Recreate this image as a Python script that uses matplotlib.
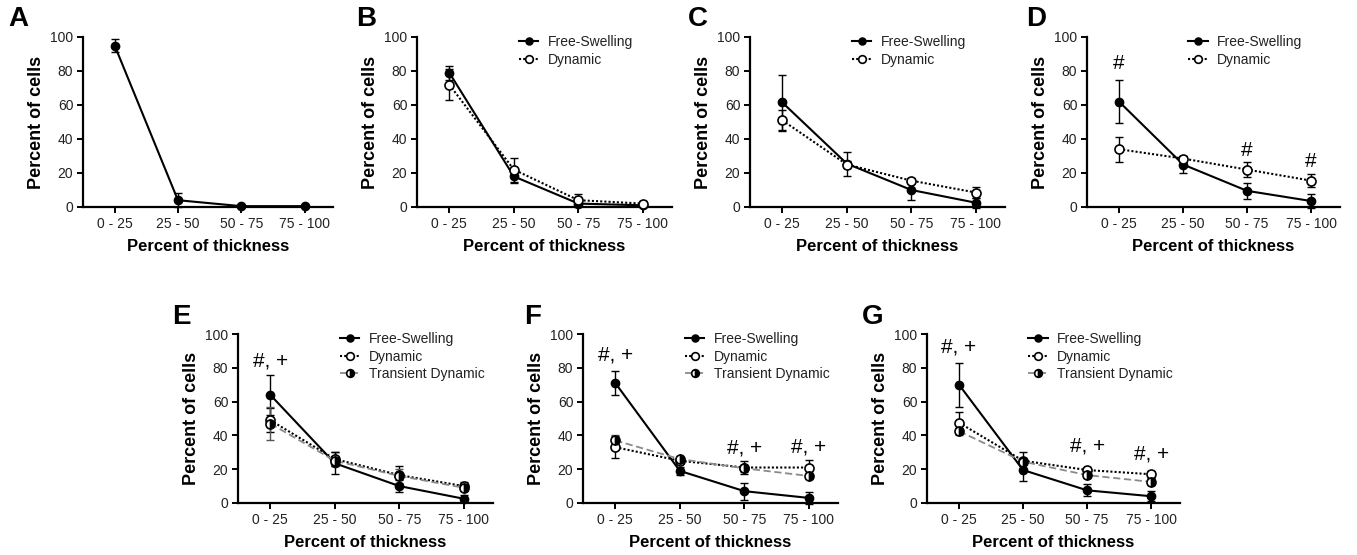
import matplotlib
matplotlib.use("Agg")
import matplotlib.pyplot as plt
import numpy as np

plt.rcParams['font.family'] = ['Liberation Sans', 'DejaVu Sans']

categories = ["0 - 25", "25 - 50", "50 - 75", "75 - 100"]

# Panel A
A_fs = [95, 4, 0.5, 0.5]
A_fs_err = [4, 4, 0.5, 0.5]

# Panel B
B_fs = [79, 18, 2, 1]
B_fs_err = [4, 4, 2, 1]
B_dyn = [72, 22, 4, 2]
B_dyn_err = [9, 7, 3.5, 1.5]

# Panel C
C_fs = [61.5, 25.5, 10, 2.5]
C_fs_err = [16, 7, 6, 3]
C_dyn = [51, 25, 15.5, 8.5]
C_dyn_err = [6, 2, 1.5, 3]

# Panel D
D_fs = [62, 25, 9.5, 3.5]
D_fs_err = [12.5, 5, 4.7, 4]
D_dyn = [34, 28.5, 22, 15.5]
D_dyn_err = [7.3, 1.5, 4.3, 4]

# Panel E
E_fs = [64, 23.5, 10, 2.5]
E_fs_err = [12, 6.6, 3.5, 2]
E_dyn = [49, 26, 16.5, 10]
E_dyn_err = [7, 4, 5.5, 2.5]
E_td = [47, 25, 16, 9]
E_td_err = [10, 3, 4, 2]

# Panel F
F_fs = [71, 19, 7, 3]
F_fs_err = [7, 2.5, 5, 3.5]
F_dyn = [33, 25, 21, 21]
F_dyn_err = [6.5, 1.5, 4, 4.5]
F_td = [37, 26, 20.5, 16]
F_td_err = [3.5, 1.5, 2, 1.5]

# Panel G
G_fs = [70, 19.5, 7.5, 4]
G_fs_err = [13, 6.5, 3.5, 3]
G_dyn = [47.5, 25, 19.5, 17]
G_dyn_err = [6.5, 5, 2, 2]
G_td = [42.5, 24.5, 16.5, 12.5]
G_td_err = [2, 2, 2, 2]

yticks = [0, 20, 40, 60, 80, 100]

fig = plt.figure(figsize=(13.57, 5.55), dpi=100)
W, H = 1357.0, 555.0

def make_ax(left, right, top_px, bottom_px):
    return fig.add_axes([left / W, (H - bottom_px) / H, (right - left) / W, (bottom_px - top_px) / H])

x = np.arange(4)

def style(ax, letter, lx, ly):
    ax.set_xlim(-0.5, 3.45)
    ax.set_ylim(0, 100)
    ax.set_yticks(yticks)
    ax.set_xticks(x)
    ax.set_xticklabels(categories)
    for s in ['top', 'right']:
        ax.spines[s].set_visible(False)
    for s in ['left', 'bottom']:
        ax.spines[s].set_linewidth(1.6)
    ax.tick_params(axis='both', direction='out', length=4, width=1.4, labelsize=10, labelcolor='#222222', pad=3)
    ax.set_xlabel("Percent of thickness", fontsize=12, fontweight='bold', labelpad=6)
    ax.set_ylabel("Percent of cells", fontsize=13, fontweight='bold', labelpad=4)
    fig.text(lx / W, 1 - ly / H, letter, fontsize=20, fontweight='bold', va='top', ha='left')

def fs_series(ax, y, e, label="Free-Swelling"):
    ax.errorbar(x, y, yerr=e, fmt='none', ecolor='black', elinewidth=1.0, capsize=3, capthick=1.0, clip_on=False, zorder=3)
    ax.plot(x, y, '-', color='black', lw=1.5, marker='o', ms=6, mfc='black', mec='black', label=label, clip_on=False, zorder=4)

def dyn_series(ax, y, e):
    ax.errorbar(x, y, yerr=e, fmt='none', ecolor='black', elinewidth=1.0, capsize=3, capthick=1.0, clip_on=False, zorder=3)
    ax.plot(x, y, linestyle=(0, (1, 1)), color='black', lw=1.5, marker='o', ms=6.5, mfc='white', mec='black', mew=1.2, label='Dynamic', clip_on=False, zorder=4)

def td_series(ax, y, e):
    ax.errorbar(x, y, yerr=e, fmt='none', ecolor='#555555', elinewidth=1.0, capsize=3, capthick=1.0, clip_on=False, zorder=3)
    ax.plot(x, y, linestyle=(0, (4, 2)), color='#8a8a8a', lw=1.3, marker='o', ms=6.5, fillstyle='right',
            mfc='black', mfcalt='white', mec='black', mew=1.2, label='Transient Dynamic', clip_on=False, zorder=4)

def legend(ax):
    leg = ax.legend(loc='upper left', bbox_to_anchor=(0.40, 1.01), frameon=False, fontsize=10,
                    handlelength=1.4, handletextpad=0.7, labelspacing=0.25, borderpad=0, borderaxespad=0,
                    markerscale=0.85)
    for t in leg.get_texts():
        t.set_color('#222222')

def annot(ax, xi, yv, s):
    ax.text(xi, yv, s, fontsize=15, ha='center', va='center', color='black')

top1, bot1 = 37, 207
top2, bot2 = 334, 503

# A
axA = make_ax(83, 333, top1, bot1)
fs_series(axA, A_fs, A_fs_err)
style(axA, "A", 8, 6)

# B
axB = make_ax(417, 672, top1, bot1)
fs_series(axB, B_fs, B_fs_err)
dyn_series(axB, B_dyn, B_dyn_err)
style(axB, "B", 356, 6)
legend(axB)

# C
axC = make_ax(750, 1005, top1, bot1)
fs_series(axC, C_fs, C_fs_err)
dyn_series(axC, C_dyn, C_dyn_err)
style(axC, "C", 688, 6)
legend(axC)

# D
axD = make_ax(1087, 1340, top1, bot1)
fs_series(axD, D_fs, D_fs_err)
dyn_series(axD, D_dyn, D_dyn_err)
style(axD, "D", 1026, 6)
legend(axD)
annot(axD, 0, 84.5, "#")
annot(axD, 2, 33.5, "#")
annot(axD, 3, 26.5, "#")

# E
axE = make_ax(238, 493, top2, bot2)
fs_series(axE, E_fs, E_fs_err)
dyn_series(axE, E_dyn, E_dyn_err)
td_series(axE, E_td, E_td_err)
style(axE, "E", 172, 304)
legend(axE)
annot(axE, 0, 84, "#, +")

# F
axF = make_ax(583, 838, top2, bot2)
fs_series(axF, F_fs, F_fs_err)
dyn_series(axF, F_dyn, F_dyn_err)
td_series(axF, F_td, F_td_err)
style(axF, "F", 524, 304)
legend(axF)
annot(axF, 0, 87.5, "#, +")
annot(axF, 2, 32.5, "#, +")
annot(axF, 3, 33, "#, +")

# G
axG = make_ax(927, 1180, top2, bot2)
fs_series(axG, G_fs, G_fs_err)
dyn_series(axG, G_dyn, G_dyn_err)
td_series(axG, G_td, G_td_err)
style(axG, "G", 862, 304)
legend(axG)
annot(axG, 0, 92.5, "#, +")
annot(axG, 2, 33.5, "#, +")
annot(axG, 3, 29, "#, +")

fig.savefig("out.png", dpi=100)
